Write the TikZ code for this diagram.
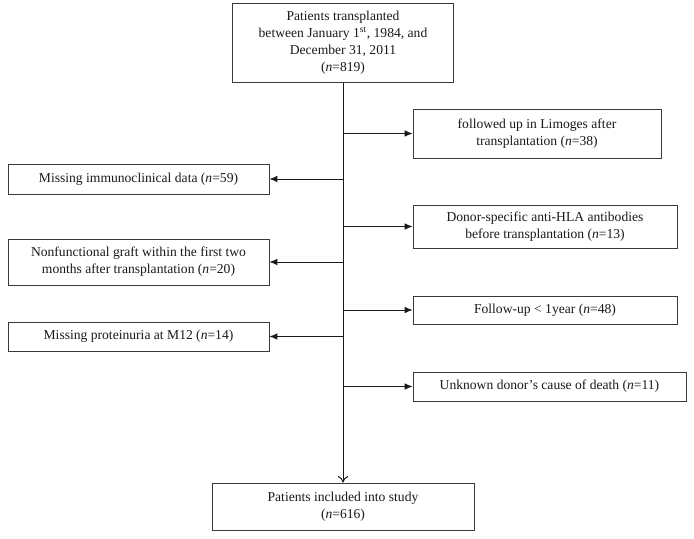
\documentclass[tikz,border=0pt]{standalone}
\usepackage{fontspec}
\setmainfont{Liberation Serif}
\usepackage{xcolor}
\usepackage{tikz}
\usetikzlibrary{arrows.meta,positioning}
\definecolor{frame}{HTML}{3A3A3A}
\definecolor{ink}{HTML}{1A1A1A}
\newcommand{\nn}[1]{(\textit{n}=#1)}
\tikzset{
  every node/.style={font=\fontsize{10.2}{12.8}\selectfont,text=ink},
  box/.style={draw=frame,line width=0.6pt,fill=white,align=center,inner sep=2pt},
  ar/.style={-{Latex[length=6pt,width=5pt]},draw=ink,line width=0.75pt},
  down/.style={-{To[length=5pt,width=8pt]},draw=ink,line width=0.75pt},
}
\begin{document}
\begin{tikzpicture}[x=0.75pt,y=-0.75pt]
\useasboundingbox (0,0) rectangle (694,539);
% start and end
\node[box,minimum width=165.75pt,minimum height=59.25pt] (top) at (343,43)
  {Patients transplanted\\ between January 1\textsuperscript{st}, 1984, and\\ December 31, 2011\\ \nn{819}};
\node[box,minimum width=196.5pt,minimum height=35.25pt] (bot) at (343,506.5)
  {Patients included into study\\ \nn{616}};

% excluded, right side
\node[box,minimum width=186pt,minimum height=36.75pt] (r1) at (537,133.5)
  {followed up in Limoges after\\ transplantation \nn{38}};
\node[box,minimum width=198pt,minimum height=32.25pt] (r2) at (545,226.5)
  {Donor-specific anti-HLA antibodies\\ before transplantation \nn{13}};
\node[box,minimum width=198pt,minimum height=21pt] (r3) at (545,310)
  {Follow-up \textless{} 1year \nn{48}};
\node[box,minimum width=204.75pt,minimum height=21.75pt] (r4) at (549.5,386.5)
  {Unknown donor's cause of death \nn{11}};

% excluded, left side
\node[box,minimum width=195.75pt,minimum height=22.5pt] (l1) at (138.5,179)
  {Missing immunoclinical data \nn{59}};
\node[box,minimum width=195.75pt,minimum height=34.5pt] (l2) at (138.5,262)
  {Nonfunctional graft within the first two\\ months after transplantation \nn{20}};
\node[box,minimum width=195.75pt,minimum height=21.75pt] (l3) at (138.5,336.5)
  {Missing proteinuria at M12 \nn{14}};

% spine
\draw[down] (top.south) -- (bot.north);
\foreach \b in {r1,r2,r3,r4}
  \draw[ar] (\b.west -| top.south) -- (\b.west);
\foreach \b in {l1,l2,l3}
  \draw[ar] (\b.east -| top.south) -- (\b.east);
\end{tikzpicture}
\end{document}
